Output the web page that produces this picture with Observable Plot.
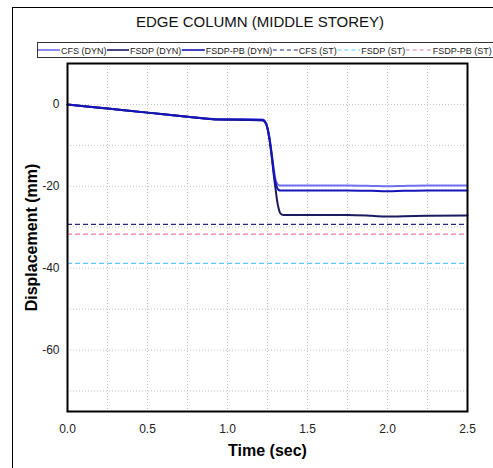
<!DOCTYPE html>
<html>
<head>
<meta charset="utf-8">
<script src="https://cdn.jsdelivr.net/npm/d3@7"></script>
<script src="https://cdn.jsdelivr.net/npm/@observablehq/plot@0.6"></script>
<style>
  body { margin: 0; background: #fff; font-family: "Liberation Sans", Arial, sans-serif; }
  #wrap { position: relative; width: 493px; height: 468px; overflow: hidden; }
  #border { position: absolute; left: 12px; top: 7px; width: 600px; height: 600px; border-left: 1px solid #000; border-top: 1px solid #000; }
  #title { position: absolute; left: 10px; top: 13px; width: 500px; text-align: center; font-size: 15px; color: #111; }
  #chart { position: absolute; left: 0; top: 0; }
  #legend { position: absolute; left: 37px; top: 42px; }
  g[aria-label="x-axis label"] text, g[aria-label="y-axis label"] text { font-weight: bold; font-size: 16px; fill: #000; }
</style>
</head>
<body>
<div id="wrap">
  <div id="border"></div>
  <div id="chart"></div>
  <div id="title"></div>
  <div id="legend"></div>
</div>
<script>
// ---- data ----
const titleText = "EDGE COLUMN (MIDDLE STOREY)";
const time    = [0, 0.25, 0.5, 0.75, 0.95, 1.1, 1.22, 1.24, 1.26, 1.28, 1.29, 1.30, 1.31, 1.32, 1.33, 1.35, 1.5, 1.75, 1.9, 2.0, 2.1, 2.25, 2.5];
const cfsDyn  = [0, -1.0, -2.0, -3.0, -3.6, -3.6, -3.7, -4.5, -7.5, -13, -16, -18.3, -19.3, -19.7, -19.8, -19.8, -19.8, -19.8, -19.9, -20.0, -19.9, -19.8, -19.8];
const fsdpDyn = [0, -1.0, -2.0, -3.0, -3.7, -3.8, -3.9, -4.7, -8.0, -14, -17.5, -20.5, -23.5, -25.5, -26.6, -27.0, -27.0, -27.0, -27.2, -27.4, -27.3, -27.2, -27.1];
const pbDyn   = [0, -1.0, -2.0, -3.0, -3.7, -3.7, -3.8, -4.6, -7.8, -13.5, -16.8, -19.0, -20.4, -20.9, -21.0, -21.0, -21.0, -21.0, -21.1, -21.2, -21.1, -21.0, -21.0];
const staticNames  = ["CFS (ST)", "FSDP (ST)", "FSDP-PB (ST)"];
const staticValues = [-29.3, -38.8, -31.7];
const dynNames = ["CFS (DYN)", "FSDP (DYN)", "FSDP-PB (DYN)"];
const dynColors = ["#6f6ff2", "#1b1b62", "#1414b8"];
const stColors  = ["#25257e", "#5ccaff", "#e27aa8"];
const xTicks = [0, 0.5, 1.0, 1.5, 2.0, 2.5];
const yTicks = [0, -20, -40, -60];
const xGrid = [0.25, 0.5, 0.75, 1.0, 1.25, 1.5, 1.75, 2.0, 2.25];
const yGrid = [0, -10, -20, -30, -40, -50, -60, -70];

// ---- build tables ----
const dynSeries = [cfsDyn, fsdpDyn, pbDyn];
const dynRows = dynSeries.flatMap((s, k) => s.map((v, i) => ({t: time[i], v, name: dynNames[k]})));
const stRows = staticNames.map((n, k) => ({name: n, v: staticValues[k]}));

document.getElementById("title").textContent = titleText;

const chart = Plot.plot({
  width: 493, height: 468,
  marginLeft: 67, marginRight: 26, marginTop: 63, marginBottom: 57,
  style: {fontFamily: "Liberation Sans, Arial, sans-serif", fontSize: "12px", color: "#222", background: "transparent"},
  x: {domain: [0, 2.5]},
  y: {domain: [-75, 10]},
  color: {domain: [...dynNames, ...staticNames], range: [...dynColors, ...stColors]},
  marks: [
    Plot.ruleX(xGrid, {stroke: "#c4c4c4", strokeDasharray: "1,2"}),
    Plot.ruleY(yGrid, {stroke: "#c4c4c4", strokeDasharray: "1,2"}),
    Plot.ruleY(stRows, {y: "v", stroke: "name", strokeWidth: 1.2, strokeDasharray: "5,3"}),
    Plot.line(dynRows, {x: "t", y: "v", z: "name", stroke: "name", strokeWidth: 2, curve: "monotone-x"}),
    Plot.axisX({ticks: xTicks, tickFormat: d3.format(".1f"), tickSize: 0, tickPadding: 13, label: "Time (sec)", labelAnchor: "center", labelArrow: "none", labelOffset: 44}),
    Plot.axisY({ticks: yTicks, tickFormat: d => String(d), tickSize: 0, tickPadding: 8, label: "Displacement (mm)", labelAnchor: "center", labelArrow: "none", labelOffset: 42}),
    Plot.frame({stroke: "#000", strokeWidth: 2})
  ]
});
document.getElementById("chart").appendChild(chart);

// ---- legend ----
const legendItems = [
  ...dynNames.map((n, i) => ({name: n, color: dynColors[i], dash: null, w: 1.6})),
  ...staticNames.map((n, i) => ({name: n, color: stColors[i], dash: "4,3", w: 1.2}))
];
const sampleLen = [22, 22, 23, 25, 23, 26];
const lsvg = d3.select("#legend").append("svg").attr("width", 470).attr("height", 17)
  .style("font-family", "Liberation Sans, Arial, sans-serif").style("font-size", "9px");
lsvg.append("rect").attr("x", 0.5).attr("y", 0.5).attr("width", 500).attr("height", 15)
  .attr("fill", "#fff").attr("stroke", "#333");
let xpos = 1;
legendItems.forEach((it, i) => {
  const sw = sampleLen[i];
  lsvg.append("line").attr("x1", xpos).attr("x2", xpos + sw).attr("y1", 8).attr("y2", 8)
    .attr("stroke", it.color).attr("stroke-width", it.w).attr("stroke-dasharray", it.dash);
  xpos += sw + 1;
  const t = lsvg.append("text").attr("x", xpos).attr("y", 11.5).attr("fill", "#222").text(it.name);
  xpos += t.node().getComputedTextLength() + 0.5;
});
</script>
</body>
</html>
